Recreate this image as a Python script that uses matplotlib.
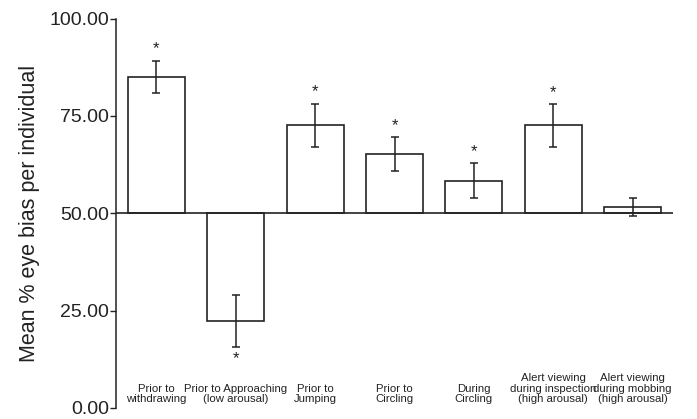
import numpy as np
import matplotlib
matplotlib.use('Agg')
import matplotlib.pyplot as plt

plt.rcParams['font.family'] = ['Liberation Sans', 'DejaVu Sans']

categories = ['Prior to\nwithdrawing',
              'Prior to Approaching\n(low arousal)',
              'Prior to\nJumping',
              'Prior to\nCircling',
              'During\nCircling',
              'Alert viewing\nduring inspection\n(high arousal)',
              'Alert viewing\nduring mobbing\n(high arousal)']
means = [85.0, 22.3, 72.6, 65.2, 58.4, 72.6, 51.5]
errors = [4.2, 6.6, 5.6, 4.4, 4.5, 5.5, 2.3]
significant = [True, True, True, True, True, True, False]
baseline = 50.0

fig = plt.figure(figsize=(6.97, 4.19), dpi=100)
ax = fig.add_axes([0.1664, 0.0265, 0.7992, 0.929])

x = np.arange(len(categories))
heights = [m - baseline for m in means]
ax.bar(x, heights, bottom=baseline, width=0.72, color='white',
       edgecolor='#222222', linewidth=1.2, zorder=2)
ax.errorbar(x, means, yerr=errors, fmt='none', ecolor='#222222',
            elinewidth=1.1, capsize=3, capthick=1.1, zorder=3)
ax.axhline(baseline, color='#222222', linewidth=1.2, zorder=4)

for xi, m, e, sig in zip(x, means, errors, significant):
    if not sig:
        continue
    if m >= baseline:
        ax.annotate('*', (xi, m + e), xytext=(0, 3), textcoords='offset points',
                    ha='center', va='bottom', fontsize=12, color='#222222')
    else:
        ax.annotate('*', (xi, m - e), xytext=(0, -3), textcoords='offset points',
                    ha='center', va='top', fontsize=12, color='#222222')

for xi, lab in zip(x, categories):
    ax.text(xi, 0.9, lab, ha='center', va='bottom', fontsize=8.2,
            color='#222222', linespacing=1.1)

ax.set_xlim(-0.51, len(categories) - 0.49)
ax.set_ylim(0, 100)
ax.set_yticks([0, 25, 50, 75, 100])
ax.set_yticklabels(['%.2f' % v for v in [0, 25, 50, 75, 100]])
ax.tick_params(axis='y', labelsize=14, length=4, width=1, direction='out',
               colors='#222222', pad=1)
ax.set_xticks([])
for side in ['top', 'right', 'bottom']:
    ax.spines[side].set_visible(False)
ax.spines['left'].set_color('#222222')
ax.spines['left'].set_linewidth(1.1)
ax.set_ylabel('Mean % eye bias per individual', fontsize=15.5, color='#222222',
              labelpad=7)

fig.savefig('out.png', dpi=100)
